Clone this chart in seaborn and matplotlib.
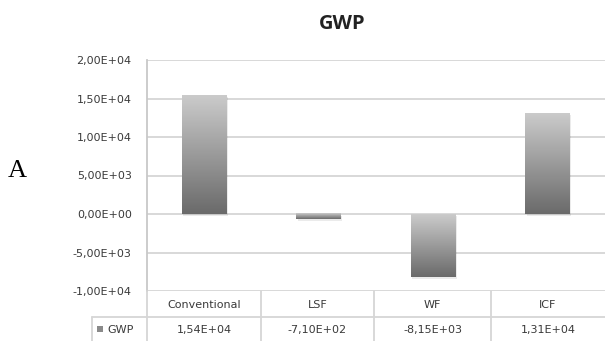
import numpy as np
import pandas as pd
import matplotlib
matplotlib.use("Agg")
import matplotlib.pyplot as plt
import seaborn as sns
from matplotlib.colors import LinearSegmentedColormap
from matplotlib.lines import Line2D
from matplotlib.patches import Rectangle

# Data
categories = ["Conventional", "LSF", "WF", "ICF"]
gwp_values = [1.54e4, -7.10e2, -8.15e3, 1.31e4]
value_labels = ["1,54E+04", "-7,10E+02", "-8,15E+03", "1,31E+04"]
y_ticks = [-1e4, -5e3, 0, 5e3, 1e4, 1.5e4, 2e4]
y_tick_labels = ["-1,00E+04", "-5,00E+03", "0,00E+00", "5,00E+03",
                 "1,00E+04", "1,50E+04", "2,00E+04"]
series_name = "GWP"

sns.set_theme(style="white")
plt.rcParams["font.family"] = ["DejaVu Sans"]

W, H = 605, 341
fig = plt.figure(figsize=(W / 100, H / 100), dpi=100)
ax = fig.add_axes([147 / W, 1 - 291 / H, (W - 147) / W, (291 - 60) / H])

df = pd.DataFrame({"category": categories, "value": gwp_values})
sns.barplot(data=df, x="category", y="value", ax=ax, width=0.39,
            color="#999999", saturation=1, errorbar=None, zorder=3)

grid_c = "#d6d6d6"
text_c = "#3a3a3a"
small = 8
lw = 1.3
ax.set_ylim(-1e4, 2e4)
ax.set_xlim(-0.5, 3.5)
ax.set_yticks(y_ticks)
ax.set_yticklabels(y_tick_labels, fontsize=small, color=text_c)
ax.tick_params(axis="y", length=0, pad=11)
ax.set_xticks([])
ax.set_xlabel("")
ax.set_ylabel("")
for y in y_ticks:
    ax.axhline(y, color=grid_c, lw=lw, zorder=1)
for s in ["top", "right", "bottom"]:
    ax.spines[s].set_visible(False)
ax.spines["left"].set_color("#c8c8c8")
ax.spines["left"].set_linewidth(lw)

# Vertical gray gradient on each bar: light at the top, dark at the bottom
cmap = LinearSegmentedColormap.from_list("bar_grad", ["#6a6a6a", "#cbcbcb"])
grad = np.linspace(0, 1, 256).reshape(-1, 1)
for patch in list(ax.patches):
    x0, y0 = patch.get_x(), patch.get_y()
    w, h = patch.get_width(), patch.get_height()
    ylo, yhi = min(y0, y0 + h), max(y0, y0 + h)
    # soft shadow behind the bar
    ax.add_patch(Rectangle((x0 + 0.012, ylo - 250), w, yhi - ylo,
                           facecolor="#000000", alpha=0.08, lw=0, zorder=2))
    ax.imshow(grad, cmap=cmap, origin="lower", aspect="auto",
              extent=(x0, x0 + w, ylo, yhi), zorder=4, interpolation="bilinear")
    patch.set_visible(False)
ax.set_xlim(-0.5, 3.5)
ax.set_ylim(-1e4, 2e4)

# Data table under the plot
tf = fig.transFigure
def fx(px):
    return px / W
def fy(py):
    return 1 - py / H

cell_edges = [147, 261, 374, 491, 605]
lines = []
lines.append(Line2D([fx(147), fx(605)], [fy(317), fy(317)]))
lines.append(Line2D([fx(92), fx(147)], [fy(317), fy(317)]))
for px in cell_edges[1:-1]:
    lines.append(Line2D([fx(px), fx(px)], [fy(291), 0]))
lines.append(Line2D([fx(147), fx(147)], [fy(291), 0]))
lines.append(Line2D([fx(92), fx(92)], [fy(317), 0]))
for ln in lines:
    ln.set_color(grid_c)
    ln.set_linewidth(lw)
    ln.set_transform(tf)
    fig.add_artist(ln)

for i, cat in enumerate(categories):
    cx = (cell_edges[i] + cell_edges[i + 1]) / 2
    fig.text(fx(cx), fy(305), cat, ha="center", va="center",
             fontsize=small, color=text_c)
    fig.text(fx(cx), fy(330), value_labels[i], ha="center", va="center",
             fontsize=small, color=text_c)

# legend key inside the table
fig.add_artist(Rectangle((fx(97), fy(332)), 6 / W, 6 / H, transform=tf,
                         facecolor="#8a8a8a", lw=0))
fig.text(fx(107), fy(330), series_name, ha="left", va="center",
         fontsize=small, color=text_c)

fig.text(fx(342), fy(24), "GWP", ha="center", va="center",
         fontsize=14.5, fontweight="bold", family="Open Sans", color="#222222")
fig.text(fx(17), fy(171), "A", ha="center", va="center",
         fontsize=19, family="Liberation Serif", color="#000000")

fig.savefig("out.png", dpi=100)
